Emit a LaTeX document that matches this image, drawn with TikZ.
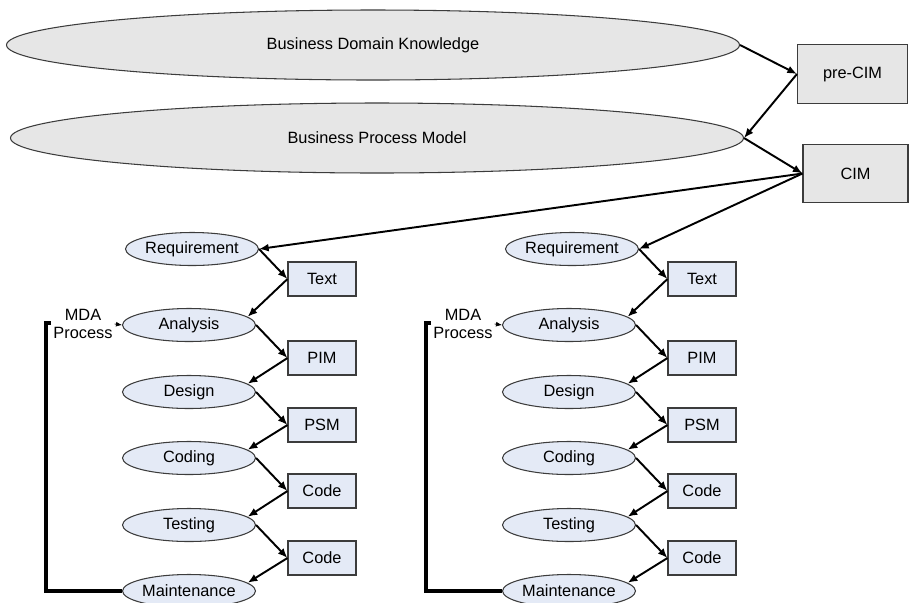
\documentclass[tikz,border=0pt]{standalone}
\usepackage{fontspec}
\setmainfont{Liberation Sans}
\usepackage{tikz}
\usetikzlibrary{shapes.geometric}
\usetikzlibrary{arrows.meta}
\tikzset{>={Latex[length=5.5pt,width=4.5pt]}}
\definecolor{modelgray}{HTML}{E6E6E6}
\definecolor{stageblue}{HTML}{E4EAF6}
\definecolor{edgegray}{HTML}{3C3C3C}
\tikzset{bigstage/.style = {shape=ellipse,draw=edgegray,line width=0.6pt,fill=modelgray,inner sep=0pt,minimum width=146.6mm,minimum height=14mm}}
\tikzset{cimbox/.style = {shape=rectangle,draw=edgegray,line width=0.6pt,fill=modelgray,minimum height=11.7mm}}
\tikzset{stage/.style = {shape=ellipse,draw=edgegray,line width=0.6pt,fill=stageblue,inner sep=0pt,minimum width=26.6mm,minimum height=6.6mm}}
\tikzset{artifact/.style = {shape=rectangle,draw=edgegray,line width=0.6pt,fill=stageblue,minimum width=13.6mm,minimum height=6.8mm}}
\tikzset{flow/.style = {->,line width=1.1pt}}

\begin{document}
\begin{tikzpicture}[x=0.2mm,y=-0.2mm,font=\fontsize{9.3}{10.4}\selectfont]
\useasboundingbox (0,0) rectangle (909,602);

\node[bigstage] (bdk) at (373,45) {Business Domain Knowledge};
\node[bigstage] (bpm) at (377,138) {Business Process Model};
\node[cimbox, minimum width=22mm] (precim) at (852.5,74) {pre-CIM};
\node[cimbox, minimum width=21mm] (cim) at (855.5,173.5) {CIM};

\draw[flow] (bdk.east) -- (precim.west);
\draw[flow] (precim.west) -- (bpm.east);
\draw[flow] (bpm.east) -- (cim.west);

\foreach \c/\dx in {l/0, r/380} {
  \node[stage] (req\c) at (192+\dx,249) {Requirement};
  \node[stage] (ana\c) at (189+\dx,325) {Analysis};
  \node[stage] (des\c) at (189+\dx,392) {Design};
  \node[stage] (cod\c) at (189+\dx,458) {Coding};
  \node[stage] (tes\c) at (189+\dx,525) {Testing};
  \node[stage] (mai\c) at (189+\dx,591) {Maintenance};

  \node[artifact] (txt\c) at (322+\dx,279) {Text};
  \node[artifact] (pim\c) at (322+\dx,358) {PIM};
  \node[artifact] (psm\c) at (322+\dx,425) {PSM};
  \node[artifact] (cde\c) at (322+\dx,491) {Code};
  \node[artifact] (cdf\c) at (322+\dx,558) {Code};

  \node[align=center, inner sep=1pt] (mda\c) at (83+\dx,324) {MDA\\Process};
  \coordinate (hook\c) at (51+\dx,323);

  \draw[flow] (cim.west) -- (req\c.east);
  \foreach \s/\b/\n in {req/txt/ana, ana/pim/des, des/psm/cod, cod/cde/tes, tes/cdf/mai} {
    \draw[flow] (\s\c.east) -- (\b\c.west);
    \draw[flow] (\b\c.west) -- (\n\c.8);
  }
  \draw[-{Latex[length=3.4pt,width=2.8pt]}, line width=0.4pt] (mda\c.east) -- (ana\c.west);
  \draw[line width=2pt] (hook\c) -- ++(-5,0) |- (mai\c.west);
}
\end{tikzpicture}
\end{document}
